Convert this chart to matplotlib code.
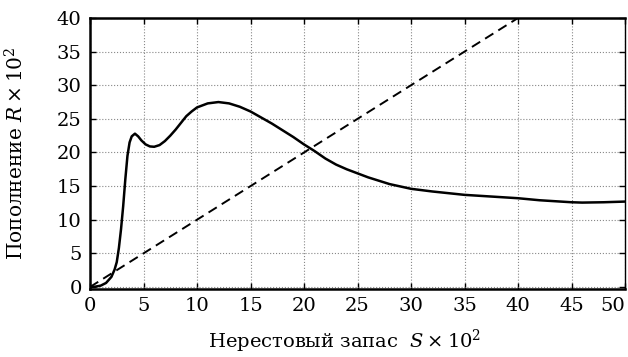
import matplotlib
matplotlib.use("Agg")
import matplotlib.pyplot as plt

# кривая пополнения R(S), значения ×10^2
S = [0, 0.5, 1.0, 1.5, 2.0, 2.3, 2.5, 2.7, 2.9, 3.1, 3.3, 3.5, 3.7, 3.9,
     4.2, 4.5, 4.8, 5.2, 5.6, 6.0, 6.5, 7.0, 7.5, 8.0, 8.5, 9.0, 9.5, 10,
     11, 12, 13, 14, 15, 16, 17, 18, 19, 20, 21, 22, 23, 24, 25, 26, 27, 28,
     30, 32, 35, 38, 40, 42, 44, 45, 46, 48, 50]
R = [0, 0.05, 0.2, 0.6, 1.5, 2.6, 3.7, 5.8, 8.6, 12.0, 16.0, 19.5, 21.5, 22.4,
     22.8, 22.4, 21.8, 21.2, 20.9, 20.85, 21.1, 21.7, 22.5, 23.4, 24.4, 25.4, 26.1, 26.7,
     27.3, 27.5, 27.3, 26.8, 26.1, 25.2, 24.3, 23.3, 22.3, 21.2, 20.2, 19.1, 18.2, 17.5, 16.9, 16.3, 15.8, 15.3,
     14.6, 14.2, 13.7, 13.4, 13.2, 12.9, 12.7, 12.6, 12.55, 12.6, 12.7]

# линия замещения R = S
S_line = [0, 40]
R_line = [0, 40]

x_ticks = [0, 5, 10, 15, 20, 25, 30, 35, 40, 45, 50]
y_ticks = [0, 5, 10, 15, 20, 25, 30, 35, 40]

plt.rcParams["font.family"] = "DejaVu Serif"
plt.rcParams["mathtext.fontset"] = "dejavuserif"

fig = plt.figure(figsize=(6.28, 3.57), dpi=100)
ax = fig.add_axes([90 / 628, 1 - 289 / 357, 535 / 628, 271 / 357])

ax.plot(S, R, color="black", lw=1.8)
ax.plot(S_line, R_line, color="black", lw=1.4, dashes=(5, 3))

ax.set_xlim(0, 50)
ax.set_ylim(-0.3, 40)
ax.set_xticks(x_ticks)
ax.set_yticks(y_ticks)
ax.grid(True, linestyle=":", color="#888888", lw=0.8)

ax.tick_params(direction="in", top=True, right=True, length=4, width=1,
               labelsize=14, pad=6)
labels = ax.get_xticklabels()
labels[-1].set_horizontalalignment("right")

for side in ["left", "top", "bottom"]:
    ax.spines[side].set_linewidth(1.8)
ax.spines["right"].set_linewidth(1.0)

ax.set_ylabel(r"Пополнение $R\times10^2$", fontsize=14.5)
ax.yaxis.set_label_coords(-0.116, 0.5)
ax.set_xlabel(r"Нерестовый запас  $S\times10^2$", fontsize=14)
ax.xaxis.set_label_coords(0.476, -0.145)

fig.savefig("out.png", dpi=100)
